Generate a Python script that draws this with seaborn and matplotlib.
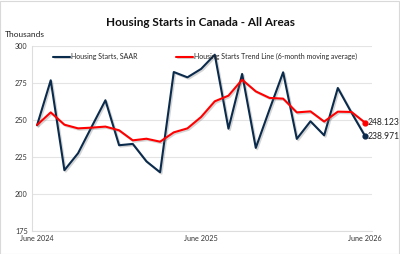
import matplotlib
matplotlib.use("Agg")
import matplotlib.pyplot as plt
import matplotlib.patheffects as pe
import seaborn as sns
import pandas as pd
import numpy as np

months = ["Jun 2024", "Jul 2024", "Aug 2024", "Sep 2024", "Oct 2024", "Nov 2024", "Dec 2024",
          "Jan 2025", "Feb 2025", "Mar 2025", "Apr 2025", "May 2025", "Jun 2025", "Jul 2025",
          "Aug 2025", "Sep 2025", "Oct 2025", "Nov 2025", "Dec 2025", "Jan 2026", "Feb 2026",
          "Mar 2026", "Apr 2026", "May 2026", "Jun 2026"]
starts = [246.4, 276.8, 216.0, 227.5, 245.5, 263.3, 232.9, 233.8, 222.0, 214.6, 282.4, 278.8,
          284.5, 294.1, 244.1, 281.1, 231.1, 257.0, 282.2, 237.2, 249.1, 239.6, 271.6, 254.9, 238.971]
trend = [246.6, 255.1, 246.8, 244.3, 244.8, 245.5, 243.0, 236.2, 237.3, 235.3, 241.6, 244.3,
         252.0, 262.6, 266.4, 277.2, 269.3, 264.9, 264.4, 255.1, 255.8, 248.9, 255.6, 255.4, 248.123]
tick_labels = ["June 2024", "June 2025", "June 2026"]
tick_pos = [0, 12, 24]
yticks = [175, 200, 225, 250, 275, 300]

df = pd.DataFrame({"idx": np.arange(len(months)), "starts": starts, "trend": trend})

sns.set_theme(style="white")
plt.rcParams["font.family"] = ["Lato", "DejaVu Sans"]

fig = plt.figure(figsize=(4.0, 2.54), dpi=100)
ax = fig.add_axes([0.08, 0.091, 0.85, 0.728])

navy = "#0b2b4c"
red = "#ff0000"
shadow = [pe.SimpleLineShadow(offset=(1.0, -1.0), shadow_color="#777777", alpha=0.3), pe.Normal()]

sns.lineplot(data=df, x="idx", y="starts", ax=ax, color=navy, linewidth=1.5,
             label="Housing Starts, SAAR", path_effects=shadow)
sns.lineplot(data=df, x="idx", y="trend", ax=ax, color=red, linewidth=1.5,
             label="Housing Starts Trend Line (6-month moving average)", path_effects=shadow)

ax.scatter([df["idx"].iloc[-1]], [starts[-1]], color=navy, s=12, zorder=5)
ax.scatter([df["idx"].iloc[-1]], [trend[-1]], color=red, s=12, zorder=5)
ax.text(df["idx"].iloc[-1] + 0.2, trend[-1] + 0.2, f"{trend[-1]:.3f}", fontsize=6.2,
        va="center", ha="left", color="#222222", clip_on=False)
ax.text(df["idx"].iloc[-1] + 0.2, starts[-1] - 0.2, f"{starts[-1]:.3f}", fontsize=6.2,
        va="center", ha="left", color="#222222", clip_on=False)

ax.set_xlim(-0.37, 24.5)
ax.set_ylim(175, 300)
ax.set_yticks(yticks)
ax.set_yticklabels([str(v) for v in yticks], fontsize=5.2, color="#333333")
ax.set_xticks(tick_pos)
ax.set_xticklabels(tick_labels, fontsize=5.2, color="#333333")
ax.tick_params(axis="both", length=0, pad=3)
ax.set_xlabel("")
ax.set_ylabel("")
ax.grid(axis="y", color="#e4e4e4", linewidth=0.8)
ax.set_axisbelow(True)
for s in ["top", "right"]:
    ax.spines[s].set_visible(False)
for s in ["left", "bottom"]:
    ax.spines[s].set_color("#dddddd")
    ax.spines[s].set_linewidth(0.8)

leg = ax.legend(loc="upper center", bbox_to_anchor=(0.51, 0.995), ncol=2, frameon=False,
                fontsize=5.0, handlelength=2.4, columnspacing=5.5, handletextpad=0.2)

fig.text(0.5, 0.913, "Housing Starts in Canada - All Areas", ha="center", va="center",
         fontsize=8.5, fontweight="bold", color="#111111")
fig.text(0.012, 0.865, "Thousands", ha="left", va="center", fontsize=6, color="#222222")

fig.patches.append(plt.Rectangle((0.001, 0.001), 0.997, 0.996, transform=fig.transFigure,
                                 fill=False, edgecolor="#d9d9d9", linewidth=0.8))

fig.savefig("out.png", dpi=100)
